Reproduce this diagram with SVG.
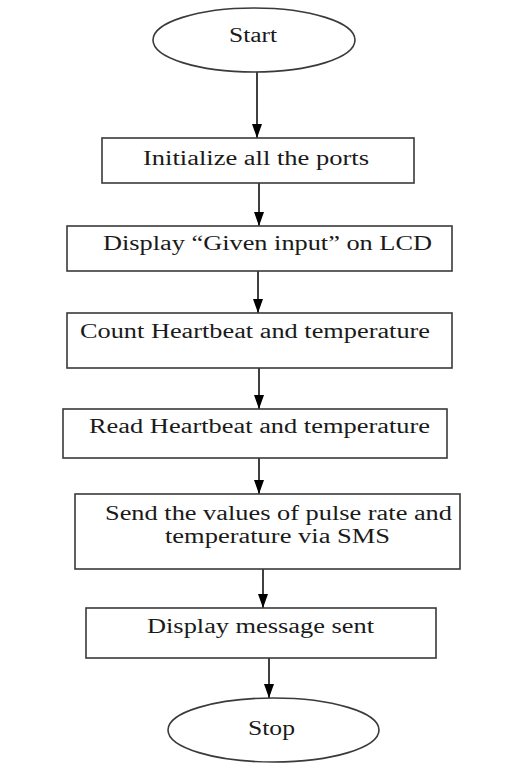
<svg xmlns="http://www.w3.org/2000/svg" width="523" height="764" viewBox="0 0 523 764">
<style>
.shape{fill:#fff;stroke:#3a3a3a;stroke-width:1.6}
.t{font-family:"Liberation Serif","Times New Roman",serif;font-size:20px;fill:#1a1a1a}
.c{stroke:#000;stroke-width:1.5;fill:none}
</style>
<defs>
<marker id="ah" viewBox="0 0 14 10" refX="14" refY="5" markerWidth="14" markerHeight="10" markerUnits="userSpaceOnUse" orient="auto">
<path d="M0,0 L14,5 L0,10 Z" fill="#000"/>
</marker>
</defs>
<rect width="523" height="764" fill="#fff"/>
<g id="connectors">
<line class="c" x1="257" y1="72" x2="257" y2="138" marker-end="url(#ah)"/>
<line class="c" x1="259" y1="183" x2="259" y2="226" marker-end="url(#ah)"/>
<line class="c" x1="258" y1="271" x2="258" y2="313" marker-end="url(#ah)"/>
<line class="c" x1="259" y1="368" x2="259" y2="409" marker-end="url(#ah)"/>
<line class="c" x1="259" y1="458" x2="259" y2="494" marker-end="url(#ah)"/>
<line class="c" x1="263" y1="569" x2="263" y2="608" marker-end="url(#ah)"/>
<line class="c" x1="269" y1="658" x2="269" y2="698" marker-end="url(#ah)"/>
</g>
<g id="start">
<ellipse class="shape" cx="254" cy="40" rx="101" ry="32"/>
<text class="t" x="229" y="42" textLength="48" lengthAdjust="spacingAndGlyphs">Start</text>
</g>
<g id="init">
<rect class="shape" x="102" y="138" width="312" height="45"/>
<text class="t" x="143" y="165" textLength="226" lengthAdjust="spacingAndGlyphs">Initialize all the ports</text>
</g>
<g id="display-input">
<rect class="shape" x="67" y="226" width="385" height="45"/>
<text class="t" x="103" y="250" textLength="329" lengthAdjust="spacingAndGlyphs">Display “Given input” on LCD</text>
</g>
<g id="count">
<rect class="shape" x="67" y="313" width="385" height="55"/>
<text class="t" x="80" y="338" textLength="350" lengthAdjust="spacingAndGlyphs">Count Heartbeat and temperature</text>
</g>
<g id="read">
<rect class="shape" x="63" y="409" width="384" height="49"/>
<text class="t" x="89" y="433" textLength="341" lengthAdjust="spacingAndGlyphs">Read Heartbeat and temperature</text>
</g>
<g id="send">
<rect class="shape" x="75" y="494" width="385" height="75"/>
<text class="t" x="105" y="520" textLength="347" lengthAdjust="spacingAndGlyphs">Send the values of pulse rate and</text>
<text class="t" x="165" y="543" textLength="225" lengthAdjust="spacingAndGlyphs">temperature via SMS</text>
</g>
<g id="display-sent">
<rect class="shape" x="86" y="608" width="350" height="50"/>
<text class="t" x="147" y="633" textLength="227" lengthAdjust="spacingAndGlyphs">Display message sent</text>
</g>
<g id="stop">
<ellipse class="shape" cx="273.5" cy="730" rx="105.5" ry="32"/>
<text class="t" x="248" y="735" textLength="47" lengthAdjust="spacingAndGlyphs">Stop</text>
</g>
</svg>
